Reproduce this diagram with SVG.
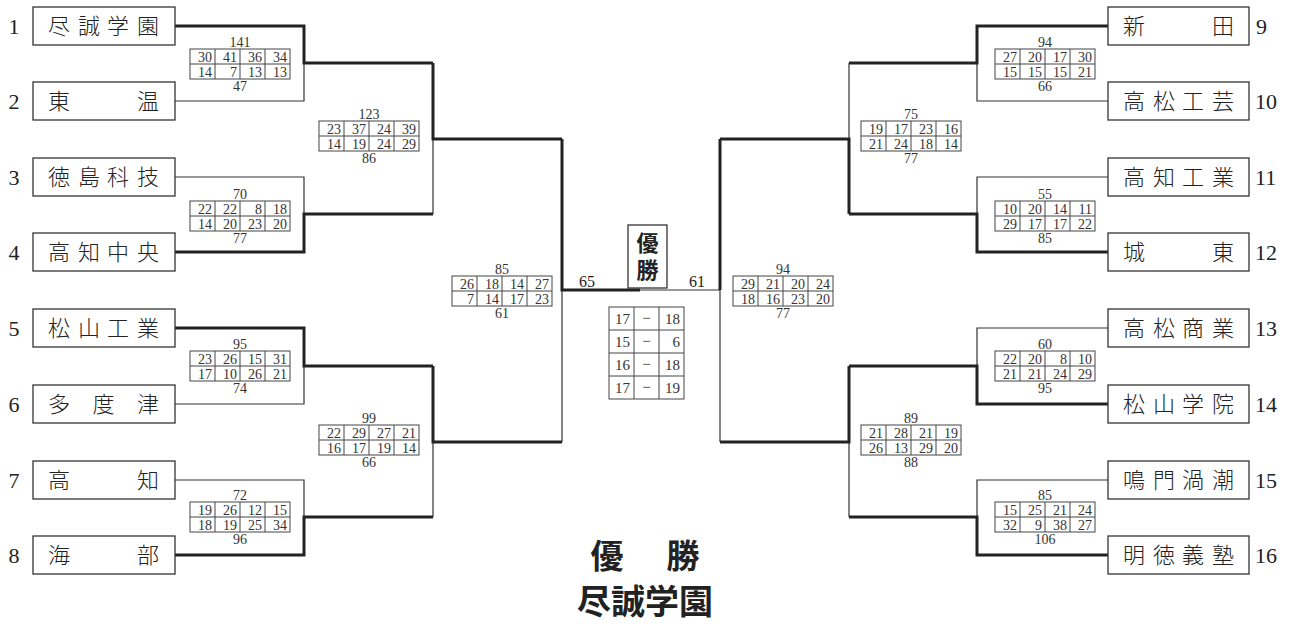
<svg xmlns="http://www.w3.org/2000/svg" xmlns:xlink="http://www.w3.org/1999/xlink" width="1293" height="624" viewBox="0 0 1293 624">
<style>
.box{fill:#fff;stroke:#333;stroke-width:1.3}
.nm{font-family:"Noto Sans CJK JP","Noto Sans CJK SC",sans-serif;font-size:22px;font-weight:300;fill:#222;text-anchor:middle}
.no{font-family:"Liberation Serif",serif;font-size:22px;fill:#222}
.thk{fill:none;stroke:#222;stroke-width:3;stroke-linejoin:miter}
.thn{fill:none;stroke:#333;stroke-width:1.2}
.grid{fill:#fff;stroke:#444;stroke-width:1}
.sc{font-family:"Liberation Serif",serif;font-size:14px;fill:#333;text-anchor:end}
.tot{font-family:"Liberation Serif",serif;font-size:14px;fill:#333;text-anchor:middle}
.fin{font-family:"Liberation Serif",serif;font-size:16px;fill:#222;text-anchor:middle}
.cq{font-family:"Liberation Serif",serif;font-size:15px;fill:#333;text-anchor:end}
.cd{font-family:"Liberation Serif",serif;font-size:15px;fill:#333;text-anchor:middle}
.win{font-family:"Noto Sans CJK JP","Noto Sans CJK SC",sans-serif;font-weight:bold;fill:#222;text-anchor:middle}
</style>
<defs>
<g id="grid">
<rect class="grid" x="0" y="0" width="100" height="30"/>
<path d="M25,0V30M50,0V30M75,0V30M0,15H100" stroke="#444" stroke-width="1" fill="none"/>
</g>
</defs>
<rect width="1293" height="624" fill="#fff"/>

<g id="connectors">
<path class="thn" d="M175,101H304V63"/>
<path class="thk" d="M175,26H304V63H433"/>
<path class="thn" d="M175,177H304V214"/>
<path class="thk" d="M175,252H304V214H433"/>
<path class="thn" d="M175,404H304V366"/>
<path class="thk" d="M175,328H304V366H433"/>
<path class="thn" d="M175,480H304V517"/>
<path class="thk" d="M175,555H304V517H433"/>
<path class="thn" d="M433,139V214"/>
<path class="thk" d="M433,63V139H562"/>
<path class="thn" d="M433,442V517"/>
<path class="thk" d="M433,366V442H562"/>
<path class="thn" d="M562,290V442"/>
<path class="thk" d="M562,139V290H640"/>
<path class="thn" d="M640,290H720"/>
<path class="thn" d="M1108,101H977V63"/>
<path class="thk" d="M1108,26H977V63H849"/>
<path class="thn" d="M1108,177H977V214"/>
<path class="thk" d="M1108,252H977V214H849"/>
<path class="thn" d="M1108,328H977V366"/>
<path class="thk" d="M1108,404H977V366H849"/>
<path class="thn" d="M1108,480H977V517"/>
<path class="thk" d="M1108,555H977V517H849"/>
<path class="thn" d="M849,63V139"/>
<path class="thk" d="M849,214V139H720"/>
<path class="thn" d="M849,442V517"/>
<path class="thk" d="M849,366V442H720"/>
<path class="thn" d="M720,290V442"/>
<path class="thk" d="M720,139V290"/>
</g>

<g id="team1"><text class="no" x="14" y="34" text-anchor="middle">1</text><rect class="box" x="33" y="7" width="142" height="38"/><text class="nm" x="59 89 118 148" y="34">尽誠学園</text></g>
<g id="team2"><text class="no" x="14" y="109" text-anchor="middle">2</text><rect class="box" x="33" y="82" width="142" height="38"/><text class="nm" x="59 148" y="109">東温</text></g>
<g id="team3"><text class="no" x="14" y="185" text-anchor="middle">3</text><rect class="box" x="33" y="158" width="142" height="38"/><text class="nm" x="59 89 118 148" y="185">徳島科技</text></g>
<g id="team4"><text class="no" x="14" y="260" text-anchor="middle">4</text><rect class="box" x="33" y="233" width="142" height="38"/><text class="nm" x="59 89 118 148" y="260">高知中央</text></g>
<g id="team5"><text class="no" x="14" y="336" text-anchor="middle">5</text><rect class="box" x="33" y="309" width="142" height="38"/><text class="nm" x="59 89 118 148" y="336">松山工業</text></g>
<g id="team6"><text class="no" x="14" y="412" text-anchor="middle">6</text><rect class="box" x="33" y="385" width="142" height="38"/><text class="nm" x="59 103.5 148" y="412">多度津</text></g>
<g id="team7"><text class="no" x="14" y="488" text-anchor="middle">7</text><rect class="box" x="33" y="461" width="142" height="38"/><text class="nm" x="59 148" y="488">高知</text></g>
<g id="team8"><text class="no" x="14" y="563" text-anchor="middle">8</text><rect class="box" x="33" y="536" width="142" height="38"/><text class="nm" x="59 148" y="563">海部</text></g>

<g id="team9"><rect class="box" x="1108" y="7" width="141" height="38"/><text class="nm" x="1134 1223" y="34">新田</text><text class="no" x="1256" y="34">9</text></g>
<g id="team10"><rect class="box" x="1108" y="82" width="141" height="38"/><text class="nm" x="1134 1164 1193 1223" y="109">高松工芸</text><text class="no" x="1255" y="109">10</text></g>
<g id="team11"><rect class="box" x="1108" y="158" width="141" height="38"/><text class="nm" x="1134 1164 1193 1223" y="185">高知工業</text><text class="no" x="1255" y="185">11</text></g>
<g id="team12"><rect class="box" x="1108" y="233" width="141" height="38"/><text class="nm" x="1134 1223" y="260">城東</text><text class="no" x="1255" y="260">12</text></g>
<g id="team13"><rect class="box" x="1108" y="309" width="141" height="38"/><text class="nm" x="1134 1164 1193 1223" y="336">高松商業</text><text class="no" x="1255" y="336">13</text></g>
<g id="team14"><rect class="box" x="1108" y="385" width="141" height="38"/><text class="nm" x="1134 1164 1193 1223" y="412">松山学院</text><text class="no" x="1255" y="412">14</text></g>
<g id="team15"><rect class="box" x="1108" y="461" width="141" height="38"/><text class="nm" x="1134 1164 1193 1223" y="488">鳴門渦潮</text><text class="no" x="1255" y="488">15</text></g>
<g id="team16"><rect class="box" x="1108" y="536" width="141" height="38"/><text class="nm" x="1134 1164 1193 1223" y="563">明徳義塾</text><text class="no" x="1255" y="563">16</text></g>

<g id="score-l1" transform="translate(190,49)"><use xlink:href="#grid"/><text class="tot" x="50" y="-2">141</text>
<text class="sc" y="12.5"><tspan x="22">30</tspan><tspan x="47">41</tspan><tspan x="72">36</tspan><tspan x="97">34</tspan></text>
<text class="sc" y="27.5"><tspan x="22">14</tspan><tspan x="47">7</tspan><tspan x="72">13</tspan><tspan x="97">13</tspan></text>
<text class="tot" x="50" y="42">47</text></g>
<g id="score-l2" transform="translate(190,201)"><use xlink:href="#grid"/><text class="tot" x="50" y="-2">70</text>
<text class="sc" y="12.5"><tspan x="22">22</tspan><tspan x="47">22</tspan><tspan x="72">8</tspan><tspan x="97">18</tspan></text>
<text class="sc" y="27.5"><tspan x="22">14</tspan><tspan x="47">20</tspan><tspan x="72">23</tspan><tspan x="97">20</tspan></text>
<text class="tot" x="50" y="42">77</text></g>
<g id="score-l3" transform="translate(190,351)"><use xlink:href="#grid"/><text class="tot" x="50" y="-2">95</text>
<text class="sc" y="12.5"><tspan x="22">23</tspan><tspan x="47">26</tspan><tspan x="72">15</tspan><tspan x="97">31</tspan></text>
<text class="sc" y="27.5"><tspan x="22">17</tspan><tspan x="47">10</tspan><tspan x="72">26</tspan><tspan x="97">21</tspan></text>
<text class="tot" x="50" y="42">74</text></g>
<g id="score-l4" transform="translate(190,502)"><use xlink:href="#grid"/><text class="tot" x="50" y="-2">72</text>
<text class="sc" y="12.5"><tspan x="22">19</tspan><tspan x="47">26</tspan><tspan x="72">12</tspan><tspan x="97">15</tspan></text>
<text class="sc" y="27.5"><tspan x="22">18</tspan><tspan x="47">19</tspan><tspan x="72">25</tspan><tspan x="97">34</tspan></text>
<text class="tot" x="50" y="42">96</text></g>
<g id="score-l5" transform="translate(319,121)"><use xlink:href="#grid"/><text class="tot" x="50" y="-2">123</text>
<text class="sc" y="12.5"><tspan x="22">23</tspan><tspan x="47">37</tspan><tspan x="72">24</tspan><tspan x="97">39</tspan></text>
<text class="sc" y="27.5"><tspan x="22">14</tspan><tspan x="47">19</tspan><tspan x="72">24</tspan><tspan x="97">29</tspan></text>
<text class="tot" x="50" y="42">86</text></g>
<g id="score-l6" transform="translate(319,425)"><use xlink:href="#grid"/><text class="tot" x="50" y="-2">99</text>
<text class="sc" y="12.5"><tspan x="22">22</tspan><tspan x="47">29</tspan><tspan x="72">27</tspan><tspan x="97">21</tspan></text>
<text class="sc" y="27.5"><tspan x="22">16</tspan><tspan x="47">17</tspan><tspan x="72">19</tspan><tspan x="97">14</tspan></text>
<text class="tot" x="50" y="42">66</text></g>
<g id="score-l7" transform="translate(452,276)"><use xlink:href="#grid"/><text class="tot" x="50" y="-2">85</text>
<text class="sc" y="12.5"><tspan x="22">26</tspan><tspan x="47">18</tspan><tspan x="72">14</tspan><tspan x="97">27</tspan></text>
<text class="sc" y="27.5"><tspan x="22">7</tspan><tspan x="47">14</tspan><tspan x="72">17</tspan><tspan x="97">23</tspan></text>
<text class="tot" x="50" y="42">61</text></g>

<g id="score-r1" transform="translate(995,49)"><use xlink:href="#grid"/><text class="tot" x="50" y="-2">94</text>
<text class="sc" y="12.5"><tspan x="22">27</tspan><tspan x="47">20</tspan><tspan x="72">17</tspan><tspan x="97">30</tspan></text>
<text class="sc" y="27.5"><tspan x="22">15</tspan><tspan x="47">15</tspan><tspan x="72">15</tspan><tspan x="97">21</tspan></text>
<text class="tot" x="50" y="42">66</text></g>
<g id="score-r2" transform="translate(995,201)"><use xlink:href="#grid"/><text class="tot" x="50" y="-2">55</text>
<text class="sc" y="12.5"><tspan x="22">10</tspan><tspan x="47">20</tspan><tspan x="72">14</tspan><tspan x="97">11</tspan></text>
<text class="sc" y="27.5"><tspan x="22">29</tspan><tspan x="47">17</tspan><tspan x="72">17</tspan><tspan x="97">22</tspan></text>
<text class="tot" x="50" y="42">85</text></g>
<g id="score-r3" transform="translate(995,351)"><use xlink:href="#grid"/><text class="tot" x="50" y="-2">60</text>
<text class="sc" y="12.5"><tspan x="22">22</tspan><tspan x="47">20</tspan><tspan x="72">8</tspan><tspan x="97">10</tspan></text>
<text class="sc" y="27.5"><tspan x="22">21</tspan><tspan x="47">21</tspan><tspan x="72">24</tspan><tspan x="97">29</tspan></text>
<text class="tot" x="50" y="42">95</text></g>
<g id="score-r4" transform="translate(995,502)"><use xlink:href="#grid"/><text class="tot" x="50" y="-2">85</text>
<text class="sc" y="12.5"><tspan x="22">15</tspan><tspan x="47">25</tspan><tspan x="72">21</tspan><tspan x="97">24</tspan></text>
<text class="sc" y="27.5"><tspan x="22">32</tspan><tspan x="47">9</tspan><tspan x="72">38</tspan><tspan x="97">27</tspan></text>
<text class="tot" x="50" y="42">106</text></g>
<g id="score-r5" transform="translate(861,121)"><use xlink:href="#grid"/><text class="tot" x="50" y="-2">75</text>
<text class="sc" y="12.5"><tspan x="22">19</tspan><tspan x="47">17</tspan><tspan x="72">23</tspan><tspan x="97">16</tspan></text>
<text class="sc" y="27.5"><tspan x="22">21</tspan><tspan x="47">24</tspan><tspan x="72">18</tspan><tspan x="97">14</tspan></text>
<text class="tot" x="50" y="42">77</text></g>
<g id="score-r6" transform="translate(861,425)"><use xlink:href="#grid"/><text class="tot" x="50" y="-2">89</text>
<text class="sc" y="12.5"><tspan x="22">21</tspan><tspan x="47">28</tspan><tspan x="72">21</tspan><tspan x="97">19</tspan></text>
<text class="sc" y="27.5"><tspan x="22">26</tspan><tspan x="47">13</tspan><tspan x="72">29</tspan><tspan x="97">20</tspan></text>
<text class="tot" x="50" y="42">88</text></g>
<g id="score-r7" transform="translate(733,276)"><use xlink:href="#grid"/><text class="tot" x="50" y="-2">94</text>
<text class="sc" y="12.5"><tspan x="22">29</tspan><tspan x="47">21</tspan><tspan x="72">20</tspan><tspan x="97">24</tspan></text>
<text class="sc" y="27.5"><tspan x="22">18</tspan><tspan x="47">16</tspan><tspan x="72">23</tspan><tspan x="97">20</tspan></text>
<text class="tot" x="50" y="42">77</text></g>

<g id="final">
<rect class="box" x="628" y="225" width="39" height="63"/>
<text class="win" font-size="22" x="647.5 647.5" y="251 278">優勝</text>
<text class="fin" x="587" y="287">65</text>
<text class="fin" x="697" y="287">61</text>
</g>
<g id="final-score" transform="translate(609,307)">
<rect class="grid" x="0" y="0" width="75" height="92"/>
<path d="M25,0V92M50,0V92M0,23H75M0,46H75M0,69H75" stroke="#444" stroke-width="1" fill="none"/>
<text class="cq" y="17"><tspan x="21">17</tspan><tspan x="71">18</tspan></text>
<text class="cq" y="40"><tspan x="21">15</tspan><tspan x="71">6</tspan></text>
<text class="cq" y="63"><tspan x="21">16</tspan><tspan x="71">18</tspan></text>
<text class="cq" y="86"><tspan x="21">17</tspan><tspan x="71">19</tspan></text>
<text class="cd" x="37.5" y="16">−</text>
<text class="cd" x="37.5" y="39">−</text>
<text class="cd" x="37.5" y="62">−</text>
<text class="cd" x="37.5" y="85">−</text>
</g>
<g id="champion">
<text class="win" font-size="33" x="607 683" y="568">優勝</text>
<text class="win" font-size="34" x="645" y="614">尽誠学園</text>
</g>
</svg>
